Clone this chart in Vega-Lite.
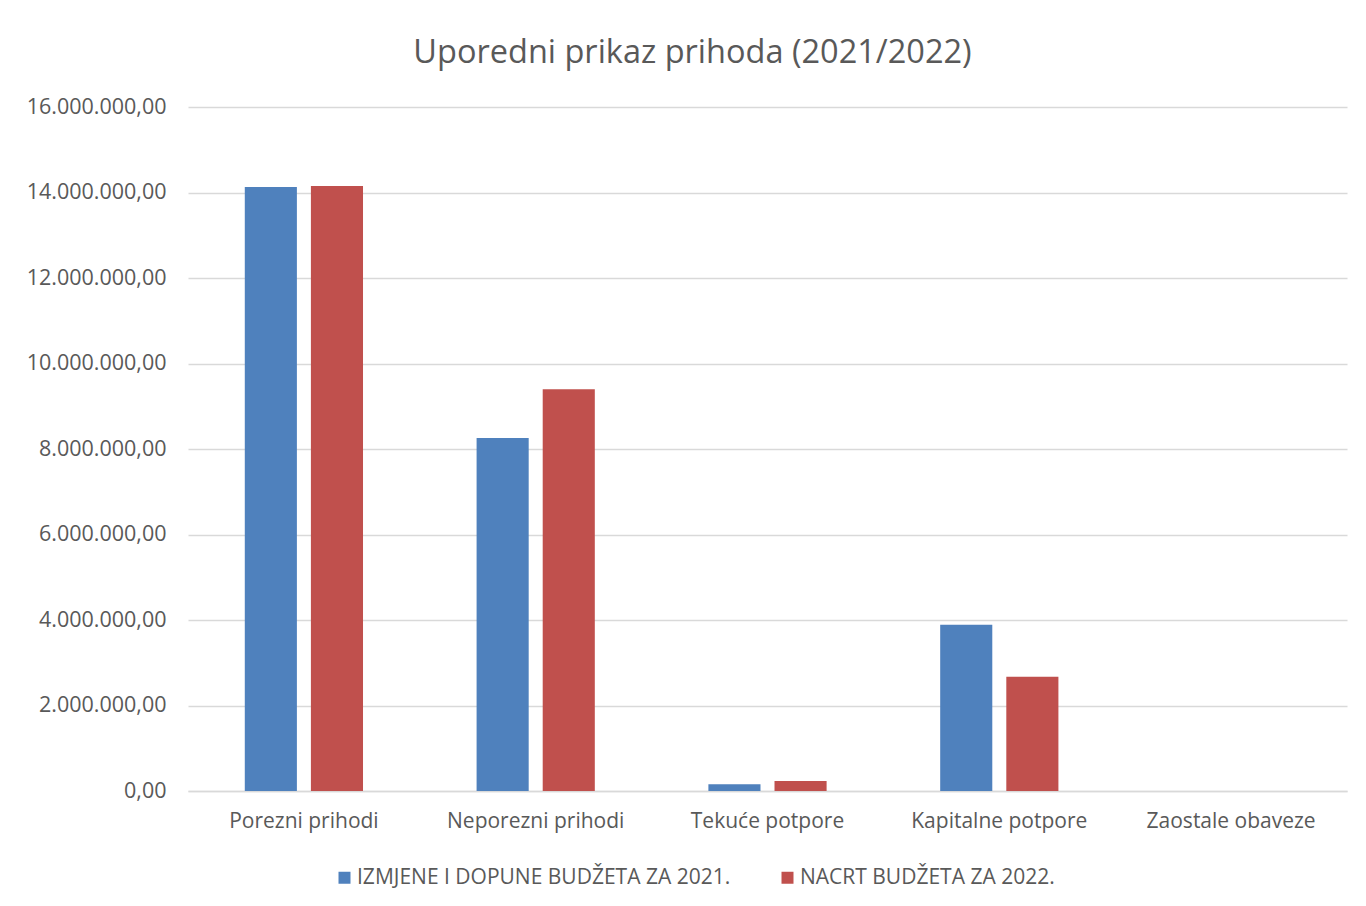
{
  "$schema": "https://vega.github.io/schema/vega-lite/v6.json",
  "autosize": {"type": "none"},
  "padding": {"left": 188, "top": 107, "right": 19, "bottom": 115},
  "width": 1159,
  "height": 684,
  "background": "white",
  "title": {
    "text": "Uporedni prikaz prihoda (2021/2022)",
    "font": "Open Sans",
    "fontSize": 32.5,
    "fontWeight": "normal",
    "color": "#595959",
    "anchor": "middle",
    "dx": -75,
    "offset": 27
  },
  "data": {
    "values": [
      {"kategorija": "Porezni prihodi", "serija": "IZMJENE I DOPUNE BUDŽETA ZA 2021.", "iznos": 14130000},
      {"kategorija": "Porezni prihodi", "serija": "NACRT BUDŽETA ZA 2022.", "iznos": 14150000},
      {"kategorija": "Neporezni prihodi", "serija": "IZMJENE I DOPUNE BUDŽETA ZA 2021.", "iznos": 8257000},
      {"kategorija": "Neporezni prihodi", "serija": "NACRT BUDŽETA ZA 2022.", "iznos": 9400000},
      {"kategorija": "Tekuće potpore", "serija": "IZMJENE I DOPUNE BUDŽETA ZA 2021.", "iznos": 155000},
      {"kategorija": "Tekuće potpore", "serija": "NACRT BUDŽETA ZA 2022.", "iznos": 235000},
      {"kategorija": "Kapitalne potpore", "serija": "IZMJENE I DOPUNE BUDŽETA ZA 2021.", "iznos": 3890000},
      {"kategorija": "Kapitalne potpore", "serija": "NACRT BUDŽETA ZA 2022.", "iznos": 2670000},
      {"kategorija": "Zaostale obaveze", "serija": "IZMJENE I DOPUNE BUDŽETA ZA 2021.", "iznos": 0},
      {"kategorija": "Zaostale obaveze", "serija": "NACRT BUDŽETA ZA 2022.", "iznos": 0}
    ]
  },
  "mark": {"type": "bar"},
  "encoding": {
    "x": {
      "field": "kategorija",
      "type": "nominal",
      "sort": ["Porezni prihodi", "Neporezni prihodi", "Tekuće potpore", "Kapitalne potpore", "Zaostale obaveze"],
      "scale": {"paddingInner": 0.49, "paddingOuter": 0.245},
      "axis": {
        "title": null,
        "labelAngle": 0,
        "labelFont": "Open Sans",
        "labelFontSize": 21,
        "labelColor": "#595959",
        "labelPadding": 19,
        "ticks": false,
        "domain": true,
        "domainColor": "#d9d9d9",
        "domainWidth": 1.5,
        "grid": false
      }
    },
    "xOffset": {
      "field": "serija",
      "type": "nominal",
      "sort": ["IZMJENE I DOPUNE BUDŽETA ZA 2021.", "NACRT BUDŽETA ZA 2022."],
      "scale": {"paddingInner": 0.212, "paddingOuter": 0}
    },
    "y": {
      "field": "iznos",
      "type": "quantitative",
      "scale": {"domain": [0, 16000000], "nice": false},
      "axis": {
        "title": null,
        "values": [0, 2000000, 4000000, 6000000, 8000000, 10000000, 12000000, 14000000, 16000000],
        "format": ",.2f",
        "labelFont": "Open Sans",
        "labelFontSize": 21.5,
        "labelColor": "#595959",
        "labelPadding": 22,
        "ticks": false,
        "domain": false,
        "grid": true,
        "gridColor": "#d9d9d9",
        "gridWidth": 1.5
      }
    },
    "color": {
      "field": "serija",
      "type": "nominal",
      "sort": ["IZMJENE I DOPUNE BUDŽETA ZA 2021.", "NACRT BUDŽETA ZA 2022."],
      "scale": {"domain": ["IZMJENE I DOPUNE BUDŽETA ZA 2021.", "NACRT BUDŽETA ZA 2022."], "range": ["#4F81BD", "#C0504D"]},
      "legend": {
        "title": null,
        "orient": "none",
        "direction": "horizontal",
        "legendX": 146,
        "legendY": 760,
        "symbolType": "square",
        "symbolSize": 144,
        "symbolStrokeWidth": 0,
        "labelFont": "Open Sans",
        "labelFontSize": 21,
        "labelColor": "#595959",
        "labelOffset": 2,
        "columnPadding": 46,
        "labelLimit": 600
      }
    }
  },
  "config": {
    "view": {"stroke": null},
    "locale": {
      "number": {"decimal": ",", "thousands": ".", "grouping": [3], "currency": ["", " KM"]}
    }
  }
}
